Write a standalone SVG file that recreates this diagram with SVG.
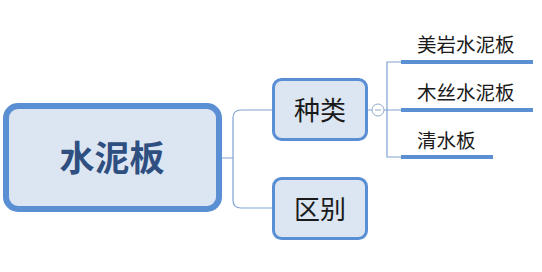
<svg xmlns="http://www.w3.org/2000/svg" width="542" height="272" viewBox="0 0 542 272">
<style>
.box{fill:#dce6f2;stroke:#5b8fd3;}
.conn{fill:none;stroke:#7ea3d4;stroke-width:1.2;}
.bar{stroke:#5b8fd3;stroke-width:4;}
.t{font-family:"Microsoft YaHei","Noto Sans CJK SC",sans-serif;fill:#1a1a1a;}
</style>
<rect width="542" height="272" fill="#ffffff"/>
<g id="connectors">
<path class="conn" d="M222,158 H233 M272,110 H241 Q233,110 233,118 V200 Q233,208 241,208 H272"/>
<path class="conn" d="M368,110 H372 M384,110 H387 M401,62 H387 V157 H401 M387,110 H401"/>
<circle cx="378" cy="110" r="6" fill="#ffffff" stroke="#8fa9c9" stroke-width="1"/>
<line x1="375" y1="110" x2="381" y2="110" stroke="#8fa9c9" stroke-width="1"/>
</g>
<g id="root">
<rect class="box" x="6" y="106" width="213" height="103" rx="12" stroke-width="6"/>
<text class="t" x="112" y="171" font-size="35" font-weight="bold" text-anchor="middle" fill="#2e4f80" style="fill:#2e4f80">水泥板</text>
</g>
<g id="zhonglei">
<rect class="box" x="273.5" y="79.5" width="93" height="60" rx="8" stroke-width="3"/>
<text class="t" x="320" y="120" font-size="26" text-anchor="middle">种类</text>
</g>
<g id="qubie">
<rect class="box" x="273.5" y="178.5" width="93" height="60" rx="8" stroke-width="3"/>
<text class="t" x="320" y="219" font-size="26" text-anchor="middle">区别</text>
</g>
<g id="meiyan">
<line class="bar" x1="401" y1="62" x2="533" y2="62"/>
<text class="t" x="417" y="52" font-size="19.5">美岩水泥板</text>
</g>
<g id="musi">
<line class="bar" x1="401" y1="110" x2="533" y2="110"/>
<text class="t" x="417" y="100" font-size="19.5">木丝水泥板</text>
</g>
<g id="qingshui">
<line class="bar" x1="401" y1="157" x2="493" y2="157"/>
<text class="t" x="417" y="148" font-size="19.5">清水板</text>
</g>
</svg>
